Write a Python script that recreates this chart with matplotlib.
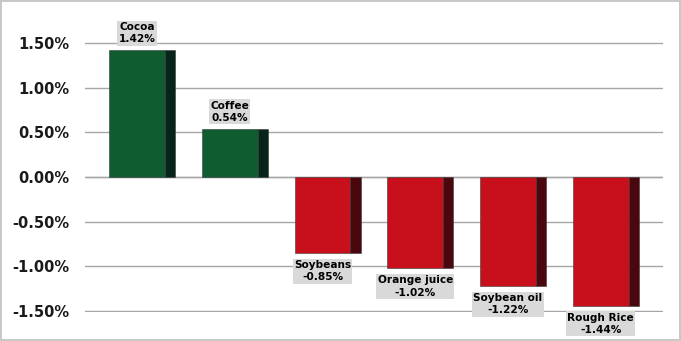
import matplotlib.pyplot as plt

# Commodity daily change (%)
names = ["Cocoa", "Coffee", "Soybeans", "Orange juice", "Soybean oil", "Rough Rice"]
changes = [1.42, 0.54, -0.85, -1.02, -1.22, -1.44]
yticks = [-1.5, -1.0, -0.5, 0.0, 0.5, 1.0, 1.5]

fig = plt.figure(figsize=(6.81, 3.41), dpi=100)
fig.patch.set_edgecolor("#c8c8c8")
fig.patch.set_linewidth(1.5)
# axes spans from the -1.50% line (y=311px) to the 1.50% line (y=43px)
ax = fig.add_axes([0.125, 0.085, 0.849, 0.792])

front_w = 0.60
side_w = 0.11
for i, v in enumerate(changes):
    if v >= 0:
        c_front, c_side = "#0f5c30", "#06241a"
    else:
        c_front, c_side = "#c8101c", "#4a070d"
    x0 = i - (front_w + side_w) / 2
    ax.bar(x0, v, width=front_w, align="edge", color=c_front,
           edgecolor="#3a3a3a", linewidth=0.4, zorder=3)
    ax.bar(x0 + front_w, v, width=side_w, align="edge", color=c_side,
           edgecolor="#3a3a3a", linewidth=0.4, zorder=3)
    cx = x0 + front_w / 2
    txt = "%s\n%.2f%%" % (names[i], v)
    if v >= 0:
        off, va = 4, "bottom"
    else:
        off, va = -5, "top"
    ax.annotate(txt, (cx, v), xytext=(0, off), textcoords="offset points",
                ha="center", va=va, fontsize=7.6, fontweight="bold",
                linespacing=1.3, annotation_clip=False, zorder=5,
                bbox=dict(boxstyle="square,pad=0.12", fc="#d9d9d9", ec="none"))

ax.set_xlim(-0.615, 5.62)
ax.set_ylim(-1.51, 1.51)
ax.set_yticks(yticks)
ax.set_yticklabels(["%.2f%%" % t for t in yticks], fontsize=10.5, fontweight="bold",
                   color="#1a1a1a")
ax.tick_params(axis="y", length=0, pad=11)
ax.set_xticks([])
ax.grid(axis="y", color="#a6a6a6", linewidth=1.0, zorder=0)
ax.axhline(0, color="#a6a6a6", linewidth=1.0, zorder=1)
for s in ax.spines.values():
    s.set_visible(False)
ax.set_facecolor("white")

fig.savefig("out.png", dpi=100, edgecolor=fig.get_edgecolor())
